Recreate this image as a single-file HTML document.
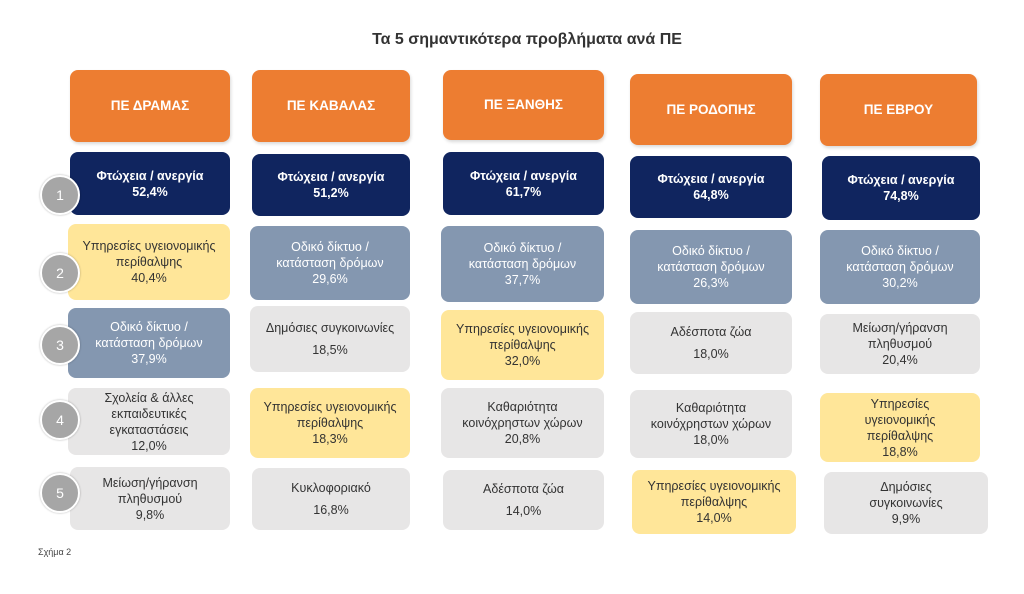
<!DOCTYPE html><html><head><meta charset="utf-8"><style>
body{margin:0;width:1024px;height:594px;background:#fff;position:relative;font-family:"Liberation Sans",sans-serif;overflow:hidden}
.b{position:absolute;border-radius:8px;display:flex;align-items:center;justify-content:center;text-align:center;font-size:12.5px;line-height:16px;color:#333;box-sizing:border-box;padding:0 3px}
.h{background:#ED7D31;color:#fff;font-weight:bold;font-size:13.5px;box-shadow:1px 2px 3px rgba(0,0,0,.15)}
.n{background:#10255F;color:#fff;font-weight:bold}
.y{background:#FFE699}
.s{background:#8497B0;color:#fff}
.g{background:#E7E6E6}
.sp{display:block;height:6px}
.c{position:absolute;width:40px;height:40px;border-radius:50%;background:#A6A6A6;border:2px solid #fff;color:#fff;font-size:14px;display:flex;align-items:center;justify-content:center;box-sizing:border-box;box-shadow:0 0 2px rgba(0,0,0,.3)}
</style></head><body>
<div style="position:absolute;left:0;width:1054px;top:31px;text-align:center;font-weight:bold;font-size:16px;color:#333">Τα 5 σημαντικότερα προβλήματα ανά ΠΕ</div>
<div style="position:absolute;left:38px;top:547px;font-size:9px;color:#444">Σχήμα 2</div>

<div class="b h" style="left:70px;top:70px;width:160px;height:72px">ΠΕ ΔΡΑΜΑΣ</div>
<div class="b n" style="left:70px;top:152px;width:160px;height:63px">Φτώχεια / ανεργία<br>52,4%</div>
<div class="b y" style="left:68px;top:224px;width:162px;height:76px">Υπηρεσίες υγειονομικής<br>περίθαλψης<br>40,4%</div>
<div class="b s" style="left:68px;top:308px;width:162px;height:70px">Οδικό δίκτυο /<br>κατάσταση δρόμων<br>37,9%</div>
<div class="b g" style="left:68px;top:388px;width:162px;height:67px">Σχολεία &amp; άλλες<br>εκπαιδευτικές<br>εγκαταστάσεις<br>12,0%</div>
<div class="b g" style="left:70px;top:467px;width:160px;height:63px">Μείωση/γήρανση<br>πληθυσμού<br>9,8%</div>

<div class="b h" style="left:252px;top:70px;width:158px;height:72px">ΠΕ ΚΑΒΑΛΑΣ</div>
<div class="b n" style="left:252px;top:154px;width:158px;height:62px">Φτώχεια / ανεργία<br>51,2%</div>
<div class="b s" style="left:250px;top:226px;width:160px;height:74px">Οδικό δίκτυο /<br>κατάσταση δρόμων<br>29,6%</div>
<div class="b g" style="left:250px;top:306px;width:160px;height:66px"><div>Δημόσιες συγκοινωνίες<span class="sp"></span>18,5%</div></div>
<div class="b y" style="left:250px;top:388px;width:160px;height:70px">Υπηρεσίες υγειονομικής<br>περίθαλψης<br>18,3%</div>
<div class="b g" style="left:252px;top:468px;width:158px;height:62px"><div>Κυκλοφοριακό<span class="sp"></span>16,8%</div></div>

<div class="b h" style="left:443px;top:70px;width:161px;height:70px">ΠΕ ΞΑΝΘΗΣ</div>
<div class="b n" style="left:443px;top:152px;width:161px;height:63px">Φτώχεια / ανεργία<br>61,7%</div>
<div class="b s" style="left:441px;top:226px;width:163px;height:76px">Οδικό δίκτυο /<br>κατάσταση δρόμων<br>37,7%</div>
<div class="b y" style="left:441px;top:310px;width:163px;height:70px">Υπηρεσίες υγειονομικής<br>περίθαλψης<br>32,0%</div>
<div class="b g" style="left:441px;top:388px;width:163px;height:70px">Καθαριότητα<br>κοινόχρηστων χώρων<br>20,8%</div>
<div class="b g" style="left:443px;top:470px;width:161px;height:60px"><div>Αδέσποτα ζώα<span class="sp"></span>14,0%</div></div>

<div class="b h" style="left:630px;top:74px;width:162px;height:71px">ΠΕ ΡΟΔΟΠΗΣ</div>
<div class="b n" style="left:630px;top:156px;width:162px;height:62px">Φτώχεια / ανεργία<br>64,8%</div>
<div class="b s" style="left:630px;top:230px;width:162px;height:74px">Οδικό δίκτυο /<br>κατάσταση δρόμων<br>26,3%</div>
<div class="b g" style="left:630px;top:312px;width:162px;height:62px"><div>Αδέσποτα ζώα<span class="sp"></span>18,0%</div></div>
<div class="b g" style="left:630px;top:390px;width:162px;height:68px">Καθαριότητα<br>κοινόχρηστων χώρων<br>18,0%</div>
<div class="b y" style="left:632px;top:470px;width:164px;height:64px">Υπηρεσίες υγειονομικής<br>περίθαλψης<br>14,0%</div>

<div class="b h" style="left:820px;top:74px;width:157px;height:72px">ΠΕ ΕΒΡΟΥ</div>
<div class="b n" style="left:822px;top:156px;width:158px;height:64px">Φτώχεια / ανεργία<br>74,8%</div>
<div class="b s" style="left:820px;top:230px;width:160px;height:74px">Οδικό δίκτυο /<br>κατάσταση δρόμων<br>30,2%</div>
<div class="b g" style="left:820px;top:314px;width:160px;height:60px">Μείωση/γήρανση<br>πληθυσμού<br>20,4%</div>
<div class="b y" style="left:820px;top:393px;width:160px;height:69px">Υπηρεσίες<br>υγειονομικής<br>περίθαλψης<br>18,8%</div>
<div class="b g" style="left:824px;top:472px;width:164px;height:62px">Δημόσιες<br>συγκοινωνίες<br>9,9%</div>

<div class="c" style="left:40px;top:175px">1</div>
<div class="c" style="left:40px;top:253px">2</div>
<div class="c" style="left:40px;top:325px">3</div>
<div class="c" style="left:40px;top:400px">4</div>
<div class="c" style="left:40px;top:473px">5</div>
</body></html>
